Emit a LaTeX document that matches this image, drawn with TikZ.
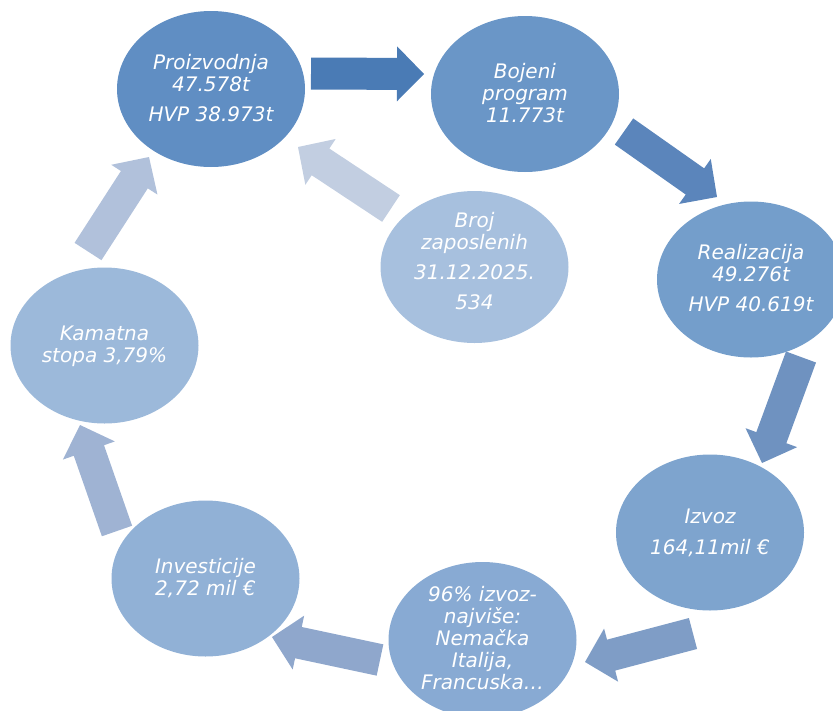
\documentclass[tikz,border=0pt]{standalone}
\usepackage{fontspec}
\newfontfamily\dvfont{DejaVu Sans}
\usetikzlibrary{shapes.geometric,calc}
\definecolor{eA}{HTML}{608EC3}
\definecolor{eB}{HTML}{6A96C7}
\definecolor{eC}{HTML}{749ECB}
\definecolor{eD}{HTML}{7EA4CE}
\definecolor{eE}{HTML}{88AAD3}
\definecolor{eF}{HTML}{91B1D6}
\definecolor{eG}{HTML}{9CB9DA}
\definecolor{eH}{HTML}{A7C0DE}
\definecolor{aA}{HTML}{4A7BB5}
\definecolor{aB}{HTML}{5B85BB}
\definecolor{aC}{HTML}{6F92C0}
\definecolor{aD}{HTML}{7F9DC6}
\definecolor{aE}{HTML}{8FA7CC}
\definecolor{aF}{HTML}{9FB3D3}
\definecolor{aG}{HTML}{B1C1DB}
\definecolor{aH}{HTML}{C2CEE1}
\newcommand\blockarrow[3]{%
  \coordinate (#2-h) at ($(#3)!27pt!(#2)$);
  \fill[#1] ($(#2)!16pt!90:(#3)$) -- ($(#2-h)!16pt!90:(#3)$) -- ($(#2-h)!27.5pt!90:(#3)$)
    -- (#3) -- ($(#2-h)!27.5pt!-90:(#3)$) -- ($(#2-h)!16pt!-90:(#3)$)
    -- ($(#2)!16pt!-90:(#3)$) -- cycle;}
\tikzset{
  bubble/.style={ellipse, minimum width=188pt, minimum height=156pt, inner sep=0pt, draw=none},
  lbl/.style={text=white, align=center, inner sep=0pt, font=\dvfont\itshape\fontsize{20}{22}\selectfont},
}
\begin{document}
\begin{tikzpicture}[x=1pt,y=-1pt]
\useasboundingbox (0,0) rectangle (833,710);
\clip (0,0) rectangle (833,710);
% ellipses
\node[bubble, fill=eA] (e1) at (211,89) {};
\node[bubble, fill=eB] (e2) at (525,94) {};
\node[bubble, fill=eC] (e3) at (751,279.5) {};
\node[bubble, fill=eD] (e4) at (710,532.5) {};
\node[bubble, fill=eE] (e5) at (482.5,640) {};
\node[bubble, fill=eF] (e6) at (205.5,578.5) {};
\node[bubble, fill=eG] (e7) at (104.5,345.5) {};
\node[bubble, fill=eH, minimum height=152pt] (e8) at (474.5,267) {};
% texts
\node[lbl] (t1) at (211,88.4) {Proizvodnja\\47.578t\\[8pt]HVP 38.973t};
\node[lbl] (t2) at (525,93.4) {Bojeni\\program\\11.773t};
\node[lbl] (t3) at (751,277.9) {Realizacija\\49.276t\\[8pt]HVP 40.619t};
\node[lbl] (t4) at (710,532.4) {Izvoz\\[9pt]164,11mil €};
\node[lbl] (t5) at (482.5,637.9) {96\% izvoz-\\najviše:\\Nemačka\\Italija,\\Francuska…};
\node[lbl] (t6) at (205.5,577.6) {Investicije\\2,72 mil €};
\node[lbl] (t7) at (104.5,346.3) {Kamatna\\stopa 3,79\%};
\node[lbl] (t8) at (474.5,261.4) {Broj\\zaposlenih\\[8pt]31.12.2025.\\[8pt]534};
% arrow end points
\coordinate (a1s) at (311,73.5); \coordinate (a1e) at (424,74);
\coordinate (a2s) at (624,131.5); \coordinate (a2e) at (717,197);
\coordinate (a3s) at (801,357); \coordinate (a3e) at (762,463);
\coordinate (a4s) at (693,633.5); \coordinate (a4e) at (585,662);
\coordinate (a5s) at (380,660); \coordinate (a5e) at (272,637);
\coordinate (a6s) at (117,531); \coordinate (a6e) at (80,425);
\coordinate (a7s) at (88,251.5); \coordinate (a7e) at (149,157);
\coordinate (a8s) at (391,208.5); \coordinate (a8e) at (298,147);
\blockarrow{aA}{a1s}{a1e}
\blockarrow{aB}{a2s}{a2e}
\blockarrow{aC}{a3s}{a3e}
\blockarrow{aD}{a4s}{a4e}
\blockarrow{aE}{a5s}{a5e}
\blockarrow{aF}{a6s}{a6e}
\blockarrow{aG}{a7s}{a7e}
\blockarrow{aH}{a8s}{a8e}
\end{tikzpicture}
\end{document}
